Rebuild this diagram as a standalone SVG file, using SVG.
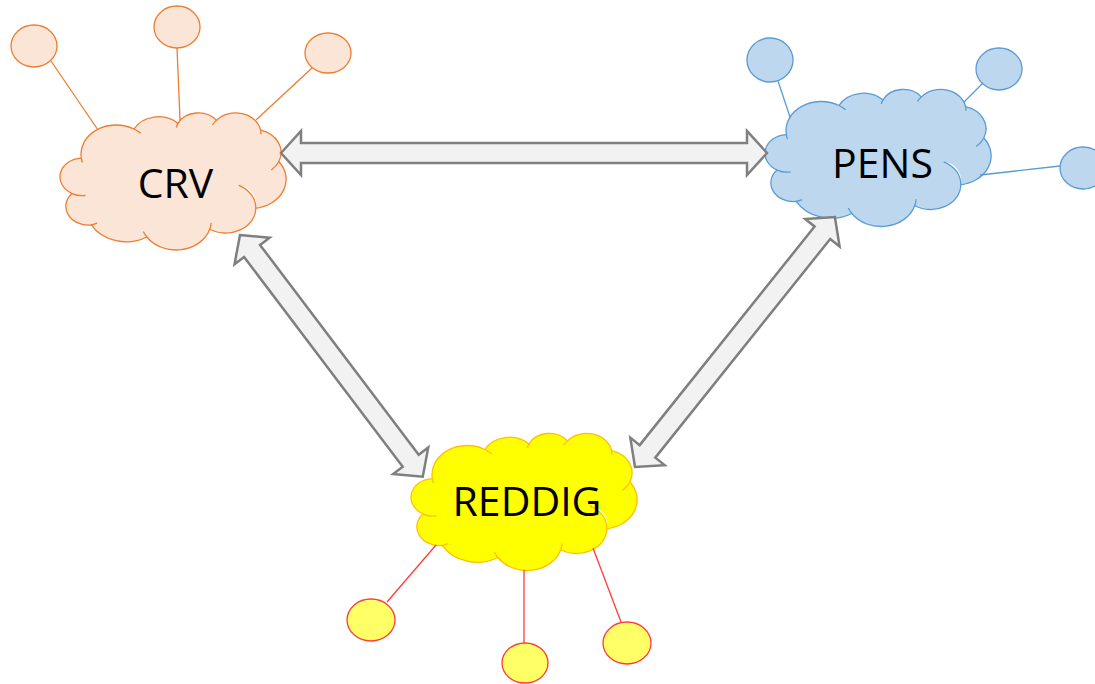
<svg xmlns="http://www.w3.org/2000/svg" xmlns:xlink="http://www.w3.org/1999/xlink" width="1095" height="684" viewBox="0 0 1095 684">
<style>
.lbl{font-family:"Open Sans","Liberation Sans",sans-serif;font-size:41px;fill:#000;text-anchor:middle}
.arrow{fill:#F2F2F2;stroke:#7F7F7F;stroke-width:2.5;stroke-linejoin:miter}
.crv{fill:#FBE5D6;stroke:#ED7D31;stroke-width:1.3}
.pens{fill:#BDD7EE;stroke:#5B9BD5;stroke-width:1.3}
.red{fill:#FFFF00;stroke:#FFC000;stroke-width:1.3}
.redsat{fill:#FFFF66;stroke:#FF3B3B;stroke-width:1.3}
.lcrv{stroke:#ED7D31;stroke-width:1.3;fill:none}
.lpens{stroke:#5B9BD5;stroke-width:1.3;fill:none}
.lred{stroke:#FF3B3B;stroke-width:1.3;fill:none}
</style>
<defs>
<g id="cloud">
<path d="M20.31,45.57 A35.17,29.14 0 0 1 72.94,16.50 A27.78,23.05 0 0 1 116.96,10.88 A22.73,18.85 0 0 1 155.38,7.86 A25.30,20.91 0 0 1 199.58,17.68 A27.78,23.07 0 0 1 217.81,49.02 A35.29,29.24 0 0 1 194.82,95.78 A30.13,24.95 0 0 1 148.73,116.74 A35.17,29.22 0 0 1 85.84,124.52 A40.21,33.44 0 0 1 30.23,112.49 A22.71,18.77 0 0 1 11.00,81.03 A22.63,18.85 0 0 1 20.31,45.57 Z"/>
<path fill="#FFFFFF" stroke="none" d="M177.76,72.79 A30.13,24.95 0 0 1 194.82,95.78 A19,19 0 0 0 177.76,72.79 Z"/>
<path fill="none" d="M24.44,83.01 A22.63,18.85 0 0 1 11.00,81.03 M36.08,110.67 A22.71,18.77 0 0 1 30.23,112.49 M85.84,124.52 A35.17,29.22 0 0 1 82.36,119.0 M150.14,110.21 A35.17,29.22 0 0 1 148.73,116.74 M177.76,72.79 A30.13,24.95 0 0 1 194.82,95.78 M217.81,49.02 A27.78,23.07 0 0 1 210.26,57.52 M199.58,17.68 A25.30,20.91 0 0 1 199.98,21.69 M151.45,12.53 A25.30,20.91 0 0 1 155.38,7.86 M115.32,14.97 A22.73,18.85 0 0 1 116.96,10.88 M72.94,16.50 A35.17,29.14 0 0 1 79.72,20.78 M21.49,50.07 A35.17,29.14 0 0 1 20.31,45.57"/>
</g>
</defs>

<g id="node-crv">
<use xlink:href="#cloud" href="#cloud" class="crv" transform="translate(61,112.5)"/>
<text class="lbl" x="175.5" y="198">CRV</text>
</g>
<g id="node-crv-a"><ellipse class="crv" cx="34" cy="46" rx="23" ry="21"/></g>
<g id="node-crv-b"><ellipse class="crv" cx="177" cy="27" rx="23" ry="21"/></g>
<g id="node-crv-c"><ellipse class="crv" cx="328" cy="53" rx="23" ry="20"/></g>

<g id="node-pens">
<use xlink:href="#cloud" href="#cloud" class="pens" transform="translate(766,89)"/>
<text class="lbl" x="882.5" y="178">PENS</text>
</g>
<g id="node-pens-a"><ellipse class="pens" cx="770" cy="60" rx="23" ry="22"/></g>
<g id="node-pens-b"><ellipse class="pens" cx="999" cy="69" rx="23" ry="21"/></g>
<g id="node-pens-c"><ellipse class="pens" cx="1083" cy="168" rx="23" ry="21"/></g>

<g id="node-reddig">
<use xlink:href="#cloud" href="#cloud" class="red" transform="translate(412,433)"/>
<text class="lbl" x="527" y="516">REDDIG</text>
</g>
<g id="node-reddig-a"><ellipse class="redsat" cx="371" cy="620" rx="24" ry="21"/></g>
<g id="node-reddig-b"><ellipse class="redsat" cx="525" cy="663" rx="23" ry="20"/></g>
<g id="node-reddig-c"><ellipse class="redsat" cx="627" cy="643" rx="24" ry="21"/></g>

<g id="connectors">
<line class="lcrv" x1="51" y1="61" x2="98" y2="130"/>
<line class="lcrv" x1="177" y1="48" x2="180" y2="120"/>
<line class="lcrv" x1="312" y1="68" x2="256" y2="120"/>
<line class="lpens" x1="778" y1="81" x2="790" y2="117"/>
<line class="lpens" x1="983" y1="83" x2="964" y2="102"/>
<line class="lpens" x1="980" y1="175" x2="1060" y2="166"/>
<line class="lred" x1="387" y1="602" x2="436" y2="545"/>
<line class="lred" x1="524" y1="570" x2="524" y2="643"/>
<line class="lred" x1="593" y1="548" x2="621" y2="622"/>
<path class="arrow" d="M281,153 L301,131 L301,143 L747,143 L747,131 L767,153 L747,175 L747,163 L301,163 L301,175 Z"/>
<path class="arrow" transform="translate(240,235) rotate(52.9)" d="M0,0 L20,-22 L20,-10 L283,-10 L283,-22 L303,0 L283,22 L283,10 L20,10 L20,22 Z"/>
<path class="arrow" transform="translate(635,467) rotate(-51.34)" d="M0,0 L20,-22 L20,-10 L300,-10 L300,-22 L320,0 L300,22 L300,10 L20,10 L20,22 Z"/>
</g>
</svg>
